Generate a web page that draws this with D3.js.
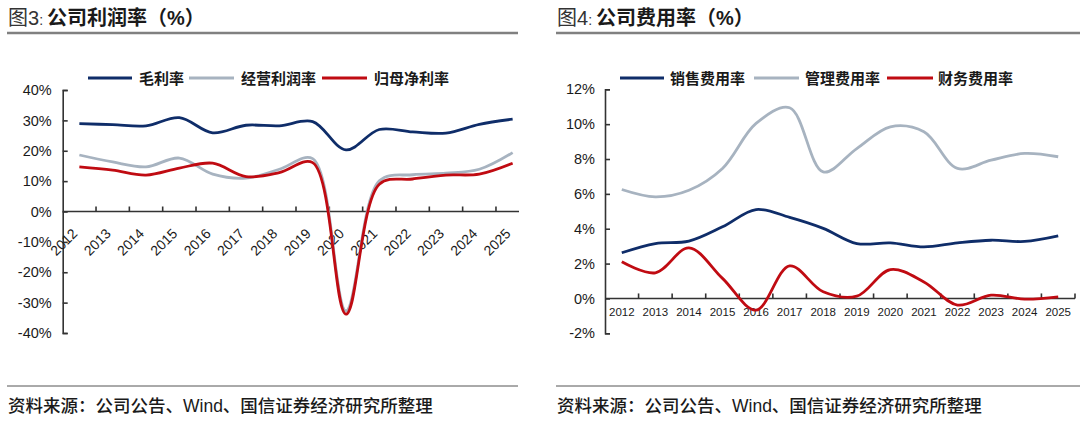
<!DOCTYPE html>
<html><head><meta charset="utf-8">
<script src="https://cdn.jsdelivr.net/npm/d3@7/dist/d3.min.js"></script>
<style>
html,body{margin:0;padding:0;background:#fff;}
svg{display:block;font-family:"Liberation Sans",Arial,"Noto Sans CJK SC",sans-serif;}
</style></head>
<body>
<svg id="c" width="1080" height="425"></svg>
<script>
const years = ["2012","2013","2014","2015","2016","2017","2018","2019","2020","2021","2022","2023","2024","2025"];
// 图3 公司利润率 (%)
const grossMargin = [28.9,28.6,28.2,30.9,25.9,28.4,28.2,29.6,20.3,27.0,26.2,25.8,28.7,30.4];
const opMargin    = [18.6,16.3,14.7,17.6,12.3,11.0,13.9,17.4,-32.7,10.1,12.1,12.6,13.9,19.4];
const netMargin   = [14.7,13.6,12.0,14.3,15.9,11.5,12.8,16.1,-33.8,9.0,10.7,12.0,12.3,15.9];
// 图4 公司费用率 (%)
const salesExp = [2.62,3.15,3.29,4.11,5.10,4.65,4.02,3.15,3.19,2.96,3.19,3.34,3.27,3.59];
const adminExp = [6.25,5.83,6.21,7.46,10.04,10.94,7.26,8.60,9.85,9.56,7.46,7.93,8.32,8.13];
const finExp   = [2.10,1.47,2.90,1.15,-0.67,1.87,0.38,0.13,1.66,0.95,-0.38,0.19,-0.04,0.09];
const leftTicks = [-40,-30,-20,-10,0,10,20,30,40];
const rightTicks = [-2,0,2,4,6,8,10,12];
const leftNames = ["毛利率","经营利润率","归母净利率"];
const rightNames = ["销售费用率","管理费用率","财务费用率"];
const colors = ["#0f2d69","#a7b3c0","#c00b12"];

const svg = d3.select("#c");
const ink = "#1a1a1a";

function header(x0, x1, num, title){
  const t = svg.append("text").attr("x", x0+1).attr("y", 25).attr("font-size", 20).attr("fill", ink);
  t.append("tspan").attr("font-weight","normal").attr("fill","#333").text("图"+num);
  t.append("tspan").attr("font-size",14).attr("fill","#333").text(": ");
  t.append("tspan").attr("font-weight","bold").text(title);
  svg.append("line").attr("x1",x0).attr("x2",x1).attr("y1",33).attr("y2",33)
     .attr("stroke","#808080").attr("stroke-width",2.4);
  svg.append("line").attr("x1",x0).attr("x2",x1).attr("y1",386).attr("y2",386)
     .attr("stroke","#555").attr("stroke-width",1);
  svg.append("text").attr("x", x0+1).attr("y", 412).attr("font-size", 17.5).attr("fill", ink)
     .attr("font-weight","500").text("资料来源：公司公告、Wind、国信证券经济研究所整理");
}

function legend(items, starts, textStarts, y){
  items.forEach((n,i)=>{
    svg.append("line").attr("x1",starts[i][0]).attr("x2",starts[i][1]).attr("y1",y).attr("y2",y)
      .attr("stroke",colors[i]).attr("stroke-width",3);
    svg.append("text").attr("x",textStarts[i]).attr("y",y+5.5).attr("font-size",15)
      .attr("font-weight","bold").attr("fill",ink).text(n);
  });
}

function chart(cfg){
  const x = d3.scaleBand().domain(years).range(cfg.xr);
  const y = d3.scaleLinear().domain(cfg.yd).range(cfg.yr);
  const g = svg.append("g");
  const ya = d3.axisLeft(y).tickValues(cfg.ticks).tickSize(-5).tickPadding(cfg.pad).tickFormat(d=>d+"%");
  const yg = g.append("g").attr("transform",`translate(${cfg.xr[0]},0)`).call(ya);
  yg.select(".domain").attr("stroke","#333").attr("stroke-width",1.6);
  yg.selectAll(".tick line").attr("stroke","#333").attr("stroke-width",1.6);
  yg.selectAll(".tick text").attr("font-size",14.5).attr("fill",ink).attr("font-family","Liberation Sans, Arial, sans-serif");
  const y0 = y(0);
  g.append("line").attr("x1",cfg.xr[0]).attr("x2",cfg.xEnd).attr("y1",y0).attr("y2",y0)
    .attr("stroke","#333").attr("stroke-width",1.6);
  const bounds = years.slice(1).map(d=>x(d));
  if (cfg.endTick) bounds.push(cfg.xr[1]);
  g.selectAll(".xt").data(bounds).join("line").attr("x1",d=>d).attr("x2",d=>d)
    .attr("y1",y0).attr("y2",y0-5).attr("stroke","#333").attr("stroke-width",1.6);
  const cx = d=>x(d)+x.bandwidth()/2;
  if (cfg.rotate){
    g.selectAll(".xl").data(years).join("text")
      .attr("transform",d=>`translate(${cx(d)-1},${y0+23}) rotate(-45)`)
      .attr("text-anchor","end").attr("font-size",14).attr("fill",ink).text(d=>d);
  } else {
    g.selectAll(".xl").data(years).join("text")
      .attr("x",cx).attr("y",y0+18).attr("text-anchor","middle")
      .attr("font-size",11.5).attr("fill",ink).text(d=>d);
  }
  const line = d3.line().x((d,i)=>cx(years[i])).y(d=>y(d)).curve(d3.curveCatmullRom.alpha(0.5));
  cfg.series.forEach((s,i)=>{
    g.append("path").attr("d",line(s)).attr("fill","none").attr("stroke",colors[i])
      .attr("stroke-width",2.8).attr("stroke-linejoin","round");
  });
}

header(7, 518, "3", "公司利润率（%）");
header(556, 1080, "4", "公司费用率（%）");

chart({xr:[62.7,529.3], xEnd:519, yd:[-40,40], yr:[333,90], ticks:leftTicks, pad:11, rotate:true, endTick:false,
       series:[grossMargin, opMargin, netMargin]});
chart({xr:[605,1075], xEnd:1075, yd:[-2,12], yr:[333.3,89.3], ticks:rightTicks, pad:10, rotate:false, endTick:true,
       series:[salesExp, adminExp, finExp]});

legend(leftNames, [[88,132],[189,234],[322,367]], [139,241,374], 78);
legend(rightNames, [[620,664],[754,799],[887,933]], [670,805,938], 78);
</script>
</body></html>
